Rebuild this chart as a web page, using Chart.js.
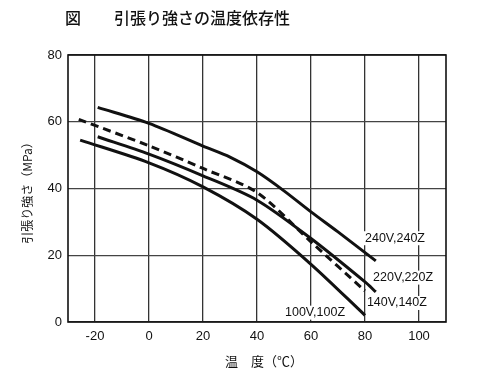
<!DOCTYPE html>
<html><head><meta charset="utf-8">
<script src="https://cdn.jsdelivr.net/npm/chart.js@4"></script>
<style>html,body{margin:0;padding:0;background:#fff;}#wrap{width:500px;height:381px;}</style>
</head><body><div id="wrap"><canvas id="c" width="500" height="381"></canvas></div>
<script>
const xTicks = [-20, 0, 20, 40, 60, 80, 100];
const yTicks = [0, 20, 40, 60, 80];
const seriesNames = ['240V,240Z', '220V,220Z', '140V,140Z', '100V,100Z'];
const s240x = [-19, 0, 20, 30, 40, 50, 60, 70, 84];
const s240y = [64.3, 59.5, 52.7, 49.4, 45, 39.3, 33, 27, 18.3];
const s220x = [-19, 0, 20, 40, 60, 80, 84];
const s220y = [55.5, 50.3, 43.8, 36.5, 25, 12, 9];
const s140x = [-26, 0, 20, 40, 60, 80];
const s140y = [60.7, 52.8, 46, 38.8, 24, 9.3];
const s100x = [-25.5, 0, 20, 40, 60, 80];
const s100y = [54.5, 47.7, 40.5, 30.8, 17.3, 2];
// label anchors in data units [x, y]
const labelX = [80, 83, 80.7, 72.6];
const labelY = [25.1, 13.3, 5.7, 2.8];
const labelAlign = ['left', 'left', 'left', 'right'];

const mk = (xs, ys) => xs.map((x, i) => ({x, y: ys[i]}));
const FONT = '"Liberation Sans", Arial, sans-serif';
const JP = '"Noto Sans CJK JP", sans-serif';

const deco = {
  id: 'deco',
  beforeDatasetsDraw(chart) {
    const {ctx, chartArea: a} = chart;
    ctx.save();
    ctx.strokeStyle = '#111';
    ctx.lineWidth = 1.6;
    ctx.strokeRect(a.left, a.top, a.right - a.left, a.bottom - a.top);
    ctx.restore();
  },
  afterDatasetsDraw(chart) {
    const {ctx, scales: {x, y}} = chart;
    ctx.save();
    ctx.font = '12.5px ' + FONT;
    ctx.textBaseline = 'middle';
    seriesNames.forEach((t, i) => {
      const px = x.getPixelForValue(labelX[i]);
      const py = y.getPixelForValue(labelY[i]);
      ctx.textAlign = labelAlign[i];
      const w = ctx.measureText(t).width;
      const l = labelAlign[i] === 'left' ? px : px - w;
      ctx.fillStyle = '#fff';
      ctx.fillRect(l - 1, py - 7, w + 2, 14);
      ctx.fillStyle = '#111';
      ctx.fillText(t, px, py);
    });
    // Title
    ctx.textAlign = 'left';
    ctx.font = '500 16px ' + JP;
    ctx.fillText('図', 65, 18);
    ctx.fillText('引張り強さの温度依存性', 114, 18);
    // x axis title
    ctx.font = '13px ' + JP;
    ctx.textAlign = 'center';
    ctx.fillText('温　度（℃）', 264, 361);
    // y axis title
    ctx.translate(27, 190);
    ctx.rotate(-Math.PI / 2);
    ctx.font = '12px ' + JP;
    ctx.fillText('引張り強さ（MPa）', 0, 0);
    ctx.restore();
  }
};

const line = (data, dash) => ({
  data, borderColor: '#111', borderWidth: 3, pointRadius: 0,
  tension: 0.3, borderDash: dash || [], fill: false
});

new Chart(document.getElementById('c'), {
  type: 'line',
  data: {
    datasets: [
      line(mk(s240x, s240y)),
      line(mk(s220x, s220y)),
      line(mk(s140x, s140y), [8, 5]),
      line(mk(s100x, s100y))
    ]
  },
  options: {
    responsive: false,
    animation: false,
    layout: {padding: {top: 55, right: 54, left: 0, bottom: 0}},
    plugins: {legend: {display: false}, tooltip: {enabled: false}, title: {display: false}},
    scales: {
      x: {
        type: 'linear', min: -30, max: 110,
        afterBuildTicks: s => { s.ticks = xTicks.map(v => ({value: v})); },
        afterFit: s => { s.height = 59; },
        grid: {color: '#333', lineWidth: 1.3, drawTicks: false},
        border: {display: false},
        ticks: {color: '#111', font: {family: FONT, size: 13}, padding: 7, maxRotation: 0}
      },
      y: {
        type: 'linear', min: 0, max: 80,
        afterBuildTicks: s => { s.ticks = yTicks.map(v => ({value: v})); },
        afterFit: s => { s.width = 68; },
        grid: {color: '#444', lineWidth: 1.2, drawTicks: false},
        border: {display: false},
        ticks: {color: '#111', font: {family: FONT, size: 13}, padding: 6}
      }
    }
  },
  plugins: [deco]
});
</script></body></html>
